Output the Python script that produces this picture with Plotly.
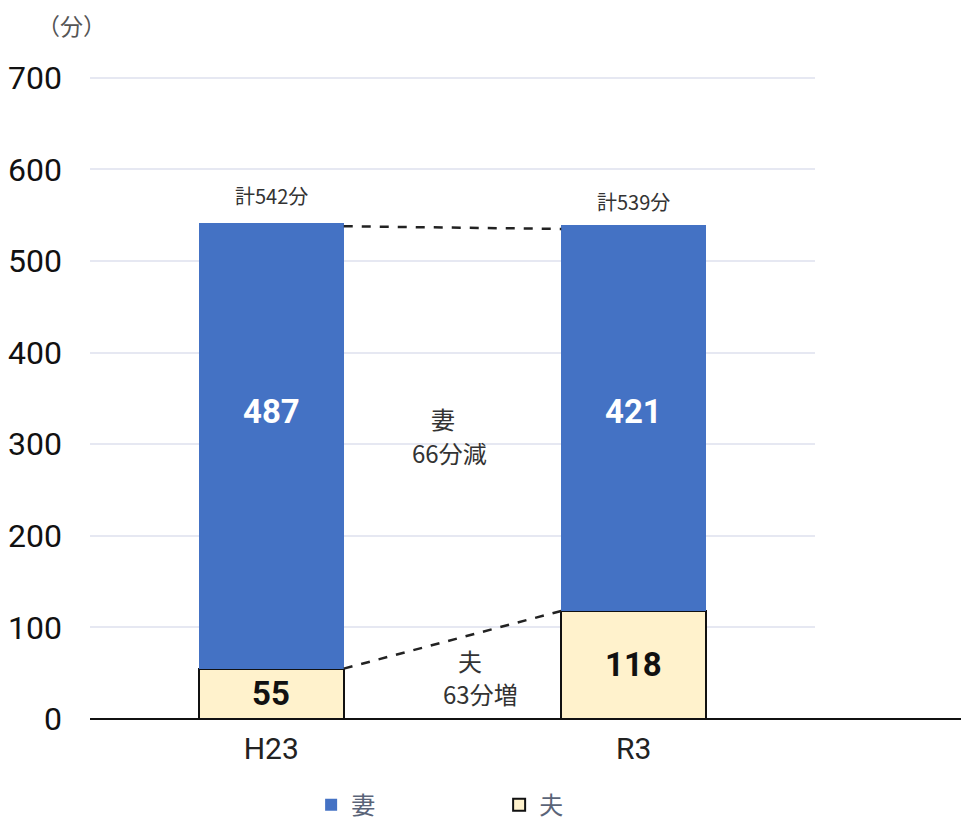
import plotly.graph_objects as go

categories = ["H23", "R3"]
husband = [55, 118]
wife = [487, 421]
totals = [542, 539]
total_labels = ["計542分", "計539分"]
y_ticks = [0, 100, 200, 300, 400, 500, 600, 700]

CJK = "Noto Sans CJK JP"
NUM = "Roboto, Noto Sans CJK JP"
BLUE = "#4472C4"
CREAM = "#FFF2CC"

fig = go.Figure()
fig.add_trace(go.Bar(
    x=categories, y=husband, name="夫",
    marker=dict(color=CREAM, line=dict(color="#111111", width=2)),
    width=0.4,
))
fig.add_trace(go.Bar(
    x=categories, y=wife, name="妻",
    marker=dict(color=BLUE, line=dict(width=0)),
    width=0.4,
))

ann = []
wife_label_y = [336, 336]
husband_label_y = [28, 60]
total_label_y = [572, 565]
for i, c in enumerate(categories):
    ann.append(dict(x=c, y=husband_label_y[i], text=f"<b>{husband[i]}</b>", showarrow=False,
                    font=dict(family=NUM, size=33, color="#111111")))
    ann.append(dict(x=c, y=wife_label_y[i], text=f"<b>{wife[i]}</b>", showarrow=False,
                    font=dict(family=NUM, size=33, color="white")))
    ann.append(dict(x=c, y=total_label_y[i], text=total_labels[i], showarrow=False,
                    font=dict(family=CJK, size=20, color="#333333")))

ann.append(dict(x=0.474, y=328, text="妻", showarrow=False,
                font=dict(family=CJK, size=24, color="#333333")))
ann.append(dict(x=0.493, y=291, text="66分減", showarrow=False,
                font=dict(family=CJK, size=24, color="#333333")))
ann.append(dict(x=0.548, y=64, text="夫", showarrow=False,
                font=dict(family=CJK, size=24, color="#333333")))
ann.append(dict(x=0.576, y=28, text="63分増", showarrow=False,
                font=dict(family=CJK, size=24, color="#333333")))
ann.append(dict(xref="paper", yref="paper", x=-0.025, y=1.079, xanchor="center", yanchor="middle",
                text="（分）", showarrow=False,
                font=dict(family=CJK, size=23, color="#555555")))

shapes = [
    dict(type="line", xref="x", yref="y", x0=0.2, y0=totals[0] - 4, x1=0.8, y1=totals[1] - 4,
         line=dict(color="#222222", width=2.5, dash="dash")),
    dict(type="line", xref="x", yref="y", x0=0.2, y0=husband[0], x1=0.8, y1=husband[1],
         line=dict(color="#222222", width=2.5, dash="dash")),
    dict(type="line", xref="paper", yref="paper", x0=0, y0=0, x1=1.25, y1=0,
         line=dict(color="#111111", width=2)),
]

fig.update_layout(
    width=969, height=816,
    margin=dict(l=82, r=162, t=68, b=105, autoexpand=False),
    paper_bgcolor="white", plot_bgcolor="white",
    barmode="stack",
    bargap=0.6,
    font=dict(family=CJK, color="#222222"),
    showlegend=True,
    legend=dict(orientation="h", x=0.305, y=-0.134, xanchor="left", yanchor="middle",
                traceorder="reversed", entrywidth=143, entrywidthmode="pixels",
                font=dict(family=CJK, size=24, color="#5A6478"), itemclick=False),
    annotations=ann,
    shapes=shapes,
    xaxis=dict(showgrid=False, showline=False, ticks="", automargin=False,
               tickfont=dict(family=NUM, size=30, color="#222222"), ticklabelstandoff=9),
    yaxis=dict(range=[0, 702], tickvals=y_ticks, showgrid=True, gridcolor="#E6E8F2", gridwidth=1.5,
               zeroline=False, showline=False, ticks="", automargin=False,
               tickfont=dict(family=NUM, size=32, color="#111111"), ticklabelstandoff=27),
)

fig.write_html("out.html")
